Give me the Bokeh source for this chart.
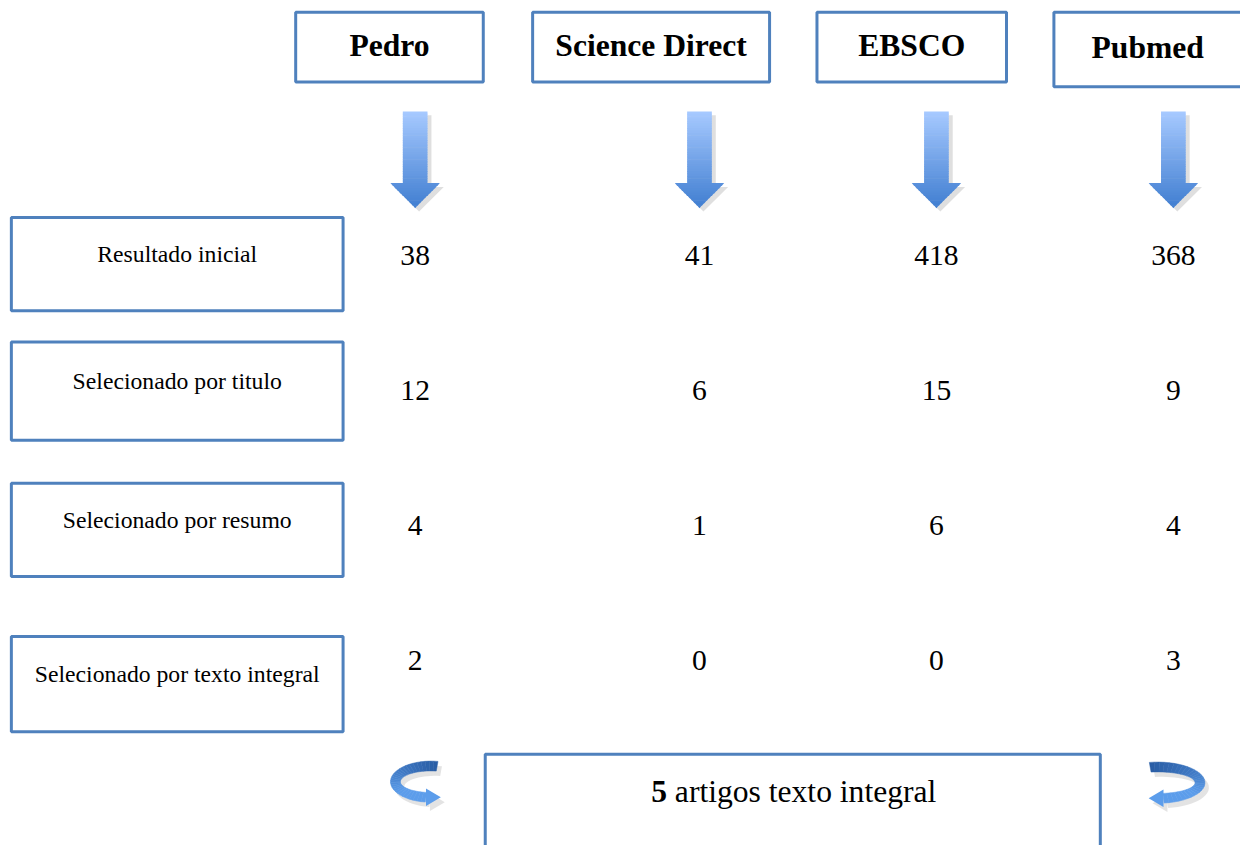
import math
from bokeh.plotting import figure
from bokeh.models import Range1d
from bokeh.core.properties import value
from bokeh.embed import file_html
from bokeh.resources import INLINE

# ---------------- data ----------------
databases = ["Pedro", "Science Direct", "EBSCO", "Pubmed"]
stages = ["Resultado inicial", "Selecionado por titulo",
          "Selecionado por resumo", "Selecionado por texto integral"]
counts_pedro = [38, 12, 4, 2]
counts_science_direct = [41, 6, 1, 0]
counts_ebsco = [418, 15, 6, 0]
counts_pubmed = [368, 9, 4, 3]
total_count = 5
total_label = "artigos texto integral"

# ---------------- layout (pixel space of the diagram) ----------------
W, H = 1240, 845
SX = W / 1256.0
col_x = [420, 708, 948, 1188]
header_cx = [394, 659, 923, 1162]
header_w = [190, 240, 192, 190]
header_top = 12
header_bottom = [83, 83, 83, 88]
row_left, row_right = 11, 347
row_top = [221, 348, 492, 648]
row_bottom = [316, 448, 587, 745]
num_y = [260, 397, 535, 673]
total_box = (491, 1114, 768, 880)

BLUE = "#4F81BD"
SERIF = value("Liberation Serif")


def px(s):
    return "%.1fpx" % (s * SX)


p = figure(width=W, height=H, output_backend="svg", toolbar_location=None,
           x_range=Range1d(0, 1256), y_range=Range1d(861, 0),
           x_axis_type=None, y_axis_type=None, min_border=0)
p.grid.visible = False
p.outline_line_color = None
p.background_fill_color = "white"
p.border_fill_color = "white"


def lerp_color(c1, c2, t):
    a = [int(c1[i:i + 2], 16) for i in (1, 3, 5)]
    b = [int(c2[i:i + 2], 16) for i in (1, 3, 5)]
    return "#%02x%02x%02x" % tuple(round(a[k] + (b[k] - a[k]) * t) for k in range(3))


# ---------------- header boxes ----------------
p.quad(left=[c - w / 2 for c, w in zip(header_cx, header_w)],
       right=[c + w / 2 for c, w in zip(header_cx, header_w)],
       top=[header_top] * 4, bottom=header_bottom,
       fill_color="white", line_color=BLUE, line_width=3)
p.text(x=header_cx, y=[(header_top + b) / 2 - 2 for b in header_bottom], text=databases,
       text_font=SERIF, text_font_size=px(32), text_font_style="bold",
       text_align="center", text_baseline="middle", text_color="black")

# ---------------- down arrows (gradient) ----------------
shaft_top, head_base, tip = 113, 186, 211
shaft_hw, head_hw = 12.5, 25
nb = 40
sh_xs, sh_ys, ar_xs, ar_ys, ar_cols = [], [], [], [], []


def half_width(y, in_head):
    if not in_head:
        return shaft_hw
    return head_hw * (tip - y) / (tip - head_base)


for cx in col_x:
    off = 4
    sh_xs.append([cx - shaft_hw + off, cx + shaft_hw + off, cx + shaft_hw + off,
                  cx + head_hw + off, cx + off, cx - head_hw + off, cx - shaft_hw + off])
    sh_ys.append([shaft_top + off, shaft_top + off, head_base + off, head_base + off,
                  tip + off, head_base + off, head_base + off])
    shaft_edges = [shaft_top + (head_base - shaft_top) * i / 30 for i in range(31)]
    head_edges = [head_base + (tip - head_base) * i / 10 for i in range(11)]
    for edges, in_head in ((shaft_edges, False), (head_edges, True)):
        for y0, y1 in zip(edges[:-1], edges[1:]):
            w0 = half_width(y0, in_head)
            w1 = half_width(y1, in_head)
            ar_xs.append([cx - w0, cx + w0, cx + w1, cx - w1])
            ar_ys.append([y0, y0, y1 + 0.6, y1 + 0.6])
            t = (y0 - shaft_top) / (tip - shaft_top)
            ar_cols.append(lerp_color("#a6c9ff", "#3f7dd0", t))

p.patches(sh_xs, sh_ys, fill_color="#808080", fill_alpha=0.25, line_color=None)
p.patches(ar_xs, ar_ys, fill_color=ar_cols, line_color=None)

# ---------------- stage boxes ----------------
p.quad(left=[row_left] * 4, right=[row_right] * 4, top=row_top, bottom=row_bottom,
       fill_color="white", line_color=BLUE, line_width=3)
p.text(x=[(row_left + row_right) / 2] * 4,
       y=[(t + b) / 2 - 10 for t, b in zip(row_top, row_bottom)], text=stages,
       text_font=SERIF, text_font_size=px(24), text_align="center",
       text_baseline="middle", text_color="black")

# ---------------- counts ----------------
for cx, counts in zip(col_x, [counts_pedro, counts_science_direct, counts_ebsco, counts_pubmed]):
    p.text(x=[cx] * len(counts), y=num_y, text=[str(v) for v in counts],
           text_font=SERIF, text_font_size=px(30), text_align="center",
           text_baseline="middle", text_color="black")

# ---------------- total box ----------------
l, r, t, b = total_box
p.quad(left=[l], right=[r], top=[t], bottom=[b], fill_color="white",
       line_color=BLUE, line_width=3)
fs = 32
full_w = (0.5 + 0.25) * fs + 8.277 * fs
x0 = (l + r) / 2 - full_w / 2 + 1
p.text(x=[x0], y=[806], text=[str(total_count)], text_font=SERIF,
       text_font_size=px(32), text_font_style="bold", text_align="left",
       text_baseline="middle", text_color="black")
p.text(x=[x0 + 0.75 * fs], y=[806], text=[total_label], text_font=SERIF,
       text_font_size=px(32), text_align="left", text_baseline="middle",
       text_color="black")


# ---------------- curved arrows ----------------
def curved_arrow(cx, cy, rx, ry, thick, mirror):
    sgn = -1 if mirror else 1
    th0, th1 = 80, 262
    n = 30
    segs_x, segs_y, cols = [], [], []
    for i in range(n):
        a0 = math.radians(th0 + (th1 - th0) * i / n)
        a1 = math.radians(th0 + (th1 - th0) * (i + 1) / n)
        pts = []
        for a, rr_x, rr_y in ((a0, rx, ry), (a1, rx, ry), (a1, rx - thick, ry - thick), (a0, rx - thick, ry - thick)):
            pts.append((cx + sgn * rr_x * math.cos(a), cy - rr_y * math.sin(a)))
        segs_x.append([q[0] for q in pts])
        segs_y.append([q[1] for q in pts])
        tt = i / (n - 1)
        cols.append(lerp_color("#2a5ea6", "#5c9deb", min(1.0, tt * 1.3)))
    a = math.radians(th1)
    bx = cx + sgn * (rx - thick / 2) * math.cos(a)
    by = cy - (ry - thick / 2) * math.sin(a)
    head_x = [bx, bx, bx + sgn * 15]
    head_y = [by - 9, by + 9, by]
    return segs_x, segs_y, cols, head_x, head_y


for (cx, cy, rx, ry, mirror) in ((436, 796, 41, 21, False), (1172, 797, 48, 21, True)):
    sx, sy, cols, hx, hy = curved_arrow(cx, cy, rx, ry, 10, mirror)
    p.patches([[v + 4 for v in xs] for xs in sx], [[v + 5 for v in ys] for ys in sy],
              fill_color="#808080", fill_alpha=0.22, line_color=None)
    p.patch([v + 4 for v in hx], [v + 5 for v in hy], fill_color="#808080",
            fill_alpha=0.22, line_color=None)
    p.patches(sx, sy, fill_color=cols, line_color=cols, line_width=0.5)
    p.patch(hx, hy, fill_color="#5c9deb", line_color=None)

open("out.html", "w").write(file_html(p, INLINE))
